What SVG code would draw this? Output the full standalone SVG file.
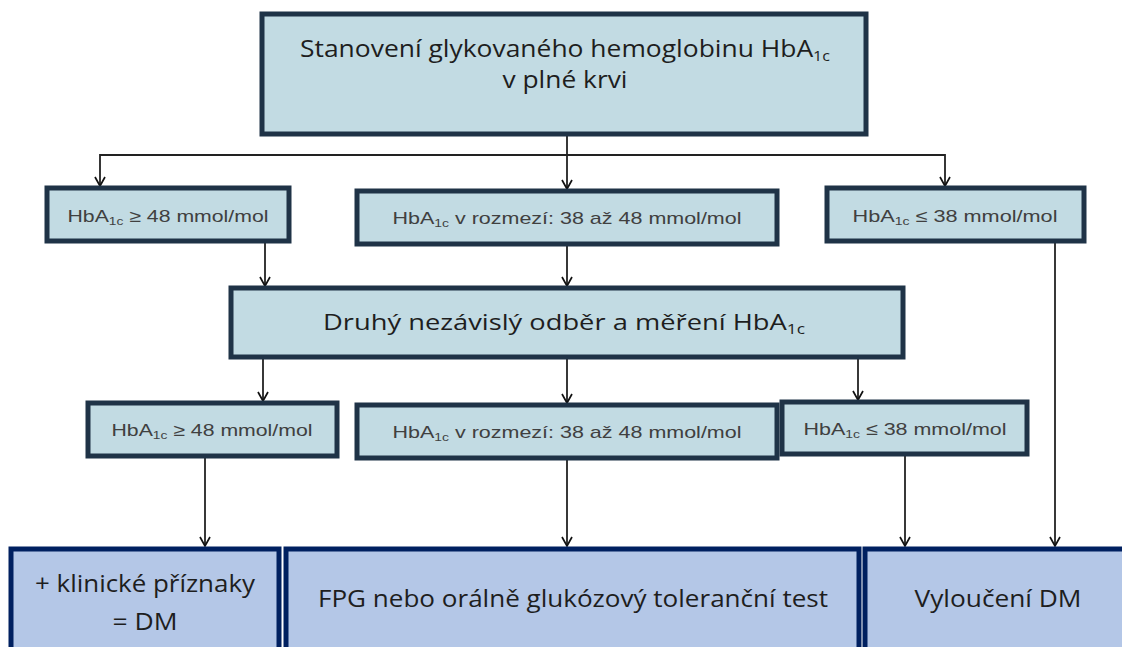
<svg xmlns="http://www.w3.org/2000/svg" width="1122" height="647" viewBox="0 0 1122 647">
<defs>
<marker id="arr" viewBox="0 0 12 12" refX="11" refY="6" markerWidth="12" markerHeight="12" markerUnits="userSpaceOnUse" orient="auto-start-reverse">
<path d="M2,1 L11,6 L2,11" fill="none" stroke="#111" stroke-width="1.7"/>
</marker>
<style>
.top{fill:#c2dbe3;stroke:#1f3347;stroke-width:5}
.bot{fill:#b4c7e7;stroke:#002060;stroke-width:5}
.big{font-family:"Open Sans","Noto Sans",sans-serif;fill:#1e1e1e;text-anchor:middle}
.sm{font-family:"Liberation Sans",Arial,sans-serif;font-size:17px;fill:#404040;text-anchor:middle}
.sub{font-size:11px}
.ln{fill:none;stroke:#222;stroke-width:1.8}
</style>
</defs>
<rect width="1122" height="647" fill="#fff"/>

<g id="connectors">
<path class="ln" d="M567,135 V189" marker-end="url(#arr)"/>
<path class="ln" d="M100,186 V155 H945 V186" marker-start="url(#arr)" marker-end="url(#arr)"/>
<path class="ln" d="M265,242 V286" marker-end="url(#arr)"/>
<path class="ln" d="M567,244 V286" marker-end="url(#arr)"/>
<path class="ln" d="M263,358 V401" marker-end="url(#arr)"/>
<path class="ln" d="M567,358 V403" marker-end="url(#arr)"/>
<path class="ln" d="M858,358 V400" marker-end="url(#arr)"/>
<path class="ln" d="M205,457 V546" marker-end="url(#arr)"/>
<path class="ln" d="M567,459 V546" marker-end="url(#arr)"/>
<path class="ln" d="M905,455 V546" marker-end="url(#arr)"/>
<path class="ln" d="M1055,242 V546" marker-end="url(#arr)"/>
</g>

<g id="n-start">
<rect class="top" x="262" y="14" width="604" height="120"/>
<text class="big" font-size="23" x="565" y="57" textLength="530" lengthAdjust="spacingAndGlyphs">Stanovení glykovaného hemoglobinu HbA<tspan font-size="14" dy="4">1c</tspan></text>
<text class="big" font-size="23" x="565" y="88" textLength="125" lengthAdjust="spacingAndGlyphs">v plné krvi</text>
</g>

<g id="n-r1-high">
<rect class="top" x="47" y="188" width="242" height="53"/>
<text class="sm" x="168" y="222" textLength="201" lengthAdjust="spacingAndGlyphs">HbA<tspan class="sub" dy="3">1c</tspan><tspan dy="-3"> ≥ 48 mmol/mol</tspan></text>
</g>
<g id="n-r1-mid">
<rect class="top" x="357" y="191" width="420" height="53"/>
<text class="sm" x="567" y="224" textLength="349" lengthAdjust="spacingAndGlyphs">HbA<tspan class="sub" dy="3">1c</tspan><tspan dy="-3"> v rozmezí: 38 až 48 mmol/mol</tspan></text>
</g>
<g id="n-r1-low">
<rect class="top" x="827" y="188" width="257" height="53"/>
<text class="sm" x="955" y="222" textLength="205" lengthAdjust="spacingAndGlyphs">HbA<tspan class="sub" dy="3">1c</tspan><tspan dy="-3"> ≤ 38 mmol/mol</tspan></text>
</g>

<g id="n-second">
<rect class="top" x="231" y="288" width="672" height="69"/>
<text class="big" font-size="22" x="564" y="330" textLength="482" lengthAdjust="spacingAndGlyphs">Druhý nezávislý odběr a měření HbA<tspan font-size="14" dy="4">1c</tspan></text>
</g>

<g id="n-r2-high">
<rect class="top" x="88" y="403" width="249" height="53"/>
<text class="sm" x="212" y="436" textLength="201" lengthAdjust="spacingAndGlyphs">HbA<tspan class="sub" dy="3">1c</tspan><tspan dy="-3"> ≥ 48 mmol/mol</tspan></text>
</g>
<g id="n-r2-mid">
<rect class="top" x="357" y="405" width="420" height="53"/>
<text class="sm" x="567" y="438" textLength="349" lengthAdjust="spacingAndGlyphs">HbA<tspan class="sub" dy="3">1c</tspan><tspan dy="-3"> v rozmezí: 38 až 48 mmol/mol</tspan></text>
</g>
<g id="n-r2-low">
<rect class="top" x="782" y="402" width="245" height="52"/>
<text class="sm" x="905" y="435" textLength="203" lengthAdjust="spacingAndGlyphs">HbA<tspan class="sub" dy="3">1c</tspan><tspan dy="-3"> ≤ 38 mmol/mol</tspan></text>
</g>

<g id="n-dm">
<rect class="bot" x="11" y="549" width="268" height="110"/>
<text class="big" font-size="24" x="145" y="592" textLength="220" lengthAdjust="spacingAndGlyphs">+ klinické příznaky</text>
<text class="big" font-size="24" x="145" y="630" textLength="65" lengthAdjust="spacingAndGlyphs">= DM</text>
</g>
<g id="n-fpg">
<rect class="bot" x="286" y="549" width="573" height="110"/>
<text class="big" font-size="24" x="573" y="607" textLength="510" lengthAdjust="spacingAndGlyphs">FPG nebo orálně glukózový toleranční test</text>
</g>
<g id="n-excl">
<rect class="bot" x="865" y="549" width="265" height="110"/>
<text class="big" font-size="24" x="998" y="607" textLength="167" lengthAdjust="spacingAndGlyphs">Vyloučení DM</text>
</g>
</svg>
